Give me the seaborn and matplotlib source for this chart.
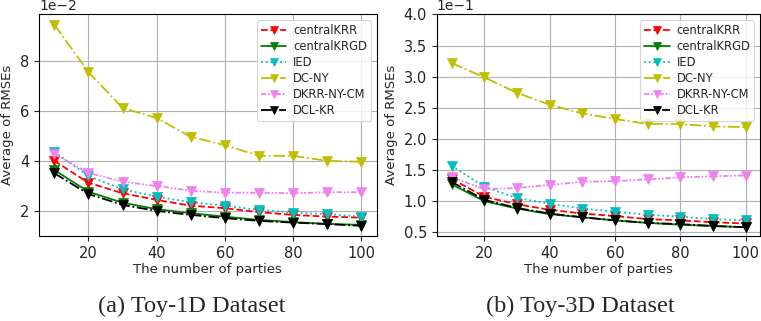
import numpy as np
import pandas as pd
import matplotlib
matplotlib.use('Agg')
import matplotlib.pyplot as plt
import seaborn as sns

# ── data ───────────────────────────────────────────────────────
parties = [10, 20, 30, 40, 50, 60, 70, 80, 90, 100]
methods = ['centralKRR', 'centralKRGD', 'IED', 'DC-NY', 'DKRR-NY-CM', 'DCL-KR']

# Toy-1D (values in 1e-2 units)
toy1d = {
    'centralKRR':  [4.01, 3.13, 2.71, 2.44, 2.21, 2.11, 1.95, 1.84, 1.77, 1.73],
    'centralKRGD': [3.64, 2.77, 2.33, 2.07, 1.91, 1.77, 1.64, 1.55, 1.48, 1.44],
    'IED':         [4.37, 3.40, 2.87, 2.57, 2.35, 2.21, 2.04, 1.93, 1.87, 1.77],
    'DC-NY':       [9.48, 7.57, 6.13, 5.73, 4.97, 4.64, 4.21, 4.21, 4.01, 3.97],
    'DKRR-NY-CM':  [4.28, 3.53, 3.17, 3.00, 2.81, 2.73, 2.73, 2.71, 2.75, 2.75],
    'DCL-KR':      [3.51, 2.68, 2.24, 2.00, 1.84, 1.71, 1.60, 1.53, 1.47, 1.40],
}
# Toy-3D (values in 1e-1 units)
toy3d = {
    'centralKRR':  [1.36, 1.07, 0.95, 0.86, 0.80, 0.76, 0.71, 0.69, 0.66, 0.64],
    'centralKRGD': [1.27, 1.00, 0.88, 0.79, 0.74, 0.69, 0.65, 0.62, 0.60, 0.58],
    'IED':         [1.57, 1.23, 1.05, 0.96, 0.88, 0.83, 0.78, 0.75, 0.71, 0.69],
    'DC-NY':       [3.22, 2.99, 2.74, 2.55, 2.41, 2.32, 2.24, 2.24, 2.20, 2.19],
    'DKRR-NY-CM':  [1.39, 1.19, 1.21, 1.26, 1.31, 1.32, 1.35, 1.38, 1.40, 1.41],
    'DCL-KR':      [1.31, 1.02, 0.89, 0.80, 0.74, 0.69, 0.65, 0.63, 0.60, 0.58],
}
toy3d_yticks = [0.5, 1.0, 1.5, 2.0, 2.5, 3.0, 3.5, 4.0]

styles = {
    'centralKRR':  dict(color='#FF0000', linestyle='--'),
    'centralKRGD': dict(color='#008000', linestyle='-'),
    'IED':         dict(color='#00BFBF', linestyle=':'),
    'DC-NY':       dict(color='#BFBF00', linestyle='-.'),
    'DKRR-NY-CM':  dict(color='#EE82EE', linestyle=(0, (3, 1, 1, 1, 1, 1))),
    'DCL-KR':      dict(color='#000000', linestyle=(0, (6, 1.5, 1, 1.5))),
}

sns.set_theme(context='paper', style='ticks', color_codes=False)
plt.rcParams['font.family'] = ['DejaVu Sans']

fig = plt.figure(figsize=(7.61, 3.21), dpi=100)
ax1 = fig.add_axes([0.0512, 0.265, 0.444, 0.69])
ax2 = fig.add_axes([0.574, 0.265, 0.425, 0.69])


def draw(ax, data, scale):
    rows = []
    for m in methods:
        for x, v in zip(parties, data[m]):
            rows.append({'parties': x, 'rmse': v * scale, 'method': m})
    df = pd.DataFrame(rows)
    for m in methods:
        sub = df[df['method'] == m]
        sns.lineplot(data=sub, x='parties', y='rmse', ax=ax, label=m,
                     marker='v', markersize=6.5, markeredgewidth=0.5,
                     markeredgecolor=styles[m]['color'], linewidth=1.3,
                     **styles[m])
    ax.grid(True, color='#b0b0b0', linewidth=0.8)
    ax.set_xticks([20, 40, 60, 80, 100])
    ax.ticklabel_format(axis='y', style='sci', scilimits=(0, 0))
    ax.yaxis.get_offset_text().set_fontsize(10)
    ax.set_xlabel('The number of parties', fontsize=9.5, labelpad=2)
    ax.set_ylabel('Average of RMSEs', fontsize=9.5)
    ax.tick_params(labelsize=10.5, length=3.5, width=0.8)
    for s in ax.spines.values():
        s.set_linewidth(0.8)
        s.set_color('black')
    leg = ax.legend(loc='upper right', fontsize=8.3, handlelength=2.2,
                    labelspacing=0.25, borderpad=0.35, handletextpad=0.6,
                    markerscale=0.9, framealpha=0.8)
    leg.get_frame().set_edgecolor('#cccccc')


draw(ax1, toy1d, 1e-2)
draw(ax2, toy3d, 1e-1)
ax2.set_yticks([t * 1e-1 for t in toy3d_yticks])
ax2.set_ylim(0.044, 0.4)

fig.text(0.252, 0.044, '(a) Toy-1D Dataset', ha='center', va='center',
         fontsize=17.5, family='Liberation Serif')
fig.text(0.762, 0.044, '(b) Toy-3D Dataset', ha='center', va='center',
         fontsize=17.5, family='Liberation Serif')

fig.savefig('out.png', dpi=100)
